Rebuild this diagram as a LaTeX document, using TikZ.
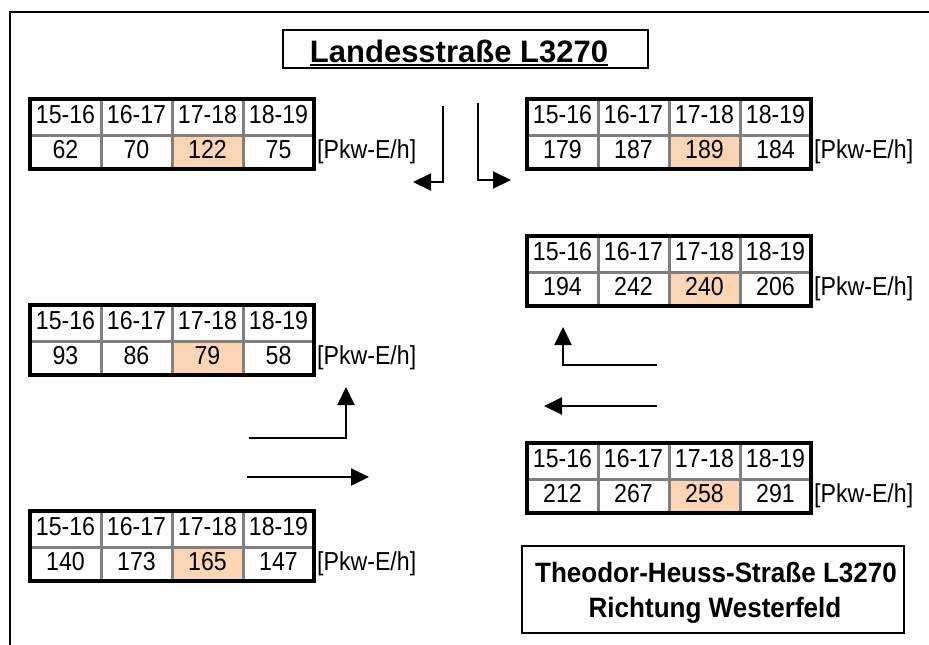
\documentclass[tikz,border=0pt]{standalone}
\usepackage{fontspec}
\setmainfont{Liberation Sans}
\newfontfamily\cellfont[FakeStretch=0.89]{Liberation Sans}
\newfontfamily\boxfont[FakeStretch=0.93]{Liberation Sans}
\usetikzlibrary{arrows.meta}
\definecolor{gridgray}{RGB}{128,128,128}
\definecolor{peak}{RGB}{252,213,180}
\newcommand\ttab[7]{%
  \fill[peak] (#2+142,#3+36) rectangle (#2+213,#3+70);
  \draw[gridline] (#2,#3+36) -- (#2+284,#3+36);
  \foreach \k in {71,142,213} {\draw[gridline] (#2+\k,#3) -- (#2+\k,#3+70);}
  \draw[outerline] (#2,#3) rectangle (#2+284,#3+70);
  \node[cell] (#1-h1) at (#2+35.5,#3+24) {15-16};
  \node[cell] (#1-h2) at (#2+106.5,#3+24) {16-17};
  \node[cell] (#1-h3) at (#2+177.5,#3+24) {17-18};
  \node[cell] (#1-h4) at (#2+248.5,#3+24) {18-19};
  \node[cell] (#1-v1) at (#2+35.5,#3+59) {#4};
  \node[cell] (#1-v2) at (#2+106.5,#3+59) {#5};
  \node[cell] (#1-v3) at (#2+177.5,#3+59) {#6};
  \node[cell] (#1-v4) at (#2+248.5,#3+59) {#7};
  \node[cell,anchor=base west] (#1-u) at (#2+287,#3+59) {[Pkw-E/h]};
}
\begin{document}
\begin{tikzpicture}[x=1pt,y=-1pt,
  gridline/.style={draw=gridgray,line width=3pt},
  outerline/.style={draw=black,line width=3.5pt},
  cell/.style={anchor=base,inner sep=0pt,font=\cellfont\fontsize{26}{30}\selectfont},
  arr/.style={line width=2pt,-{Triangle[length=18pt,width=17pt]}},
  boxline/.style={draw=black,line width=2pt},
  boldtext/.style={anchor=base,inner sep=0pt,font=\boxfont\bfseries\fontsize{28}{34}\selectfont}]
\useasboundingbox (0,0) rectangle (929,645);
\fill[white] (0,0) rectangle (929,645);
% frame
\draw[line width=2pt] (10,645) -- (10,12) -- (929,12);
% title
\draw[boxline] (283,30) rectangle (648,68);
\node[anchor=base,inner sep=0pt,font=\bfseries\fontsize{31}{36}\selectfont] (title) at (459,62) {Landesstraße L3270};
\draw[line width=2pt] (title.base west) ++(0,3) -- ([yshift=-3pt]title.base east);
% tables
\ttab{tA}{30}{99}{62}{70}{122}{75}
\ttab{tB}{527}{99}{179}{187}{189}{184}
\ttab{tC}{30}{305}{93}{86}{79}{58}
\ttab{tD}{30}{511}{140}{173}{165}{147}
\ttab{tE}{527}{236}{194}{242}{240}{206}
\ttab{tF}{527}{443}{212}{267}{258}{291}
% arrows
\coordinate (a1s) at (443,106); \coordinate (a1c) at (443,182); \coordinate (a1e) at (413,182);
\draw[arr] (a1s) -- (a1c) -- (a1e);
\coordinate (a2s) at (478,103); \coordinate (a2c) at (478,180); \coordinate (a2e) at (511,180);
\draw[arr] (a2s) -- (a2c) -- (a2e);
\coordinate (a3s) at (249,438); \coordinate (a3c) at (346,438); \coordinate (a3e) at (346,387);
\draw[arr] (a3s) -- (a3c) -- (a3e);
\coordinate (a4s) at (247,477); \coordinate (a4e) at (369,477);
\draw[arr] (a4s) -- (a4e);
\coordinate (a5s) at (657,365); \coordinate (a5c) at (563,365); \coordinate (a5e) at (563,327);
\draw[arr] (a5s) -- (a5c) -- (a5e);
\coordinate (a6s) at (657,406); \coordinate (a6e) at (544,406);
\draw[arr] (a6s) -- (a6e);
% bottom box
\draw[boxline] (522,546) rectangle (904,633);
\node[boldtext] (th1) at (716,582) {Theodor-Heuss-Straße L3270};
\node[boldtext] (th2) at (715,617) {Richtung Westerfeld};
\end{tikzpicture}
\end{document}
